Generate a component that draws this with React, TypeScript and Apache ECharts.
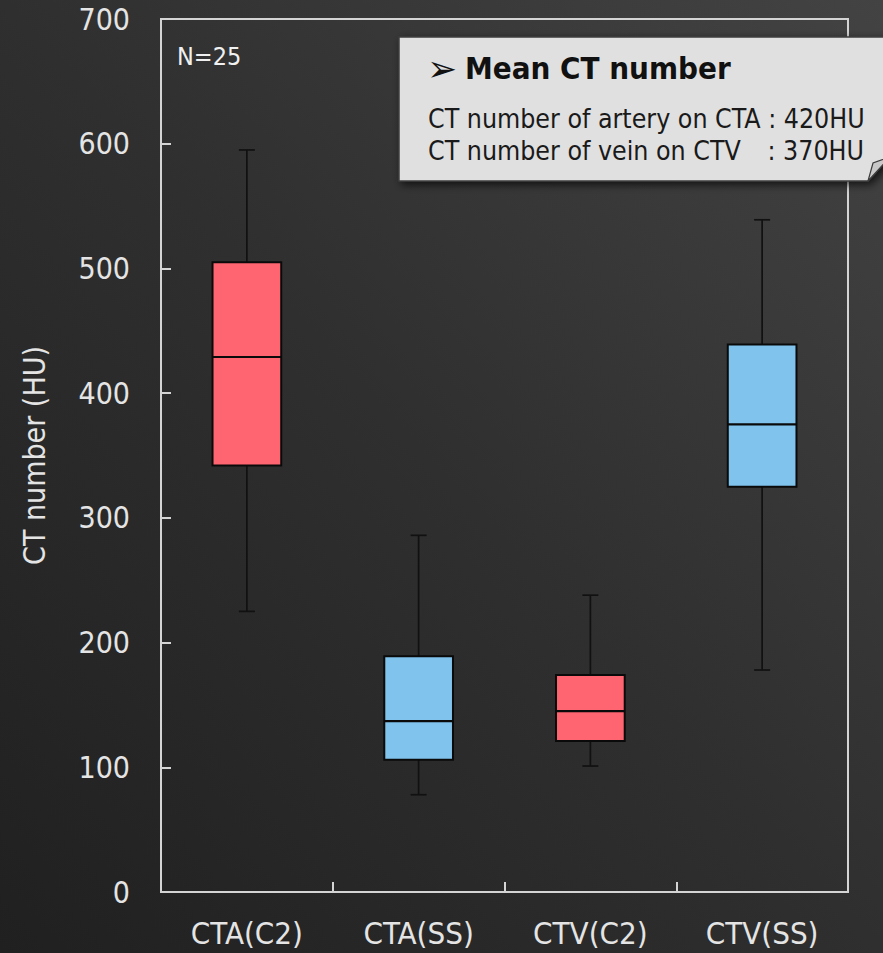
import React, { useEffect, useRef } from "react";
import * as echarts from "echarts";

const categories = ["CTA(C2)", "CTA(SS)", "CTV(C2)", "CTV(SS)"];
// [low whisker, Q1, median, Q3, high whisker] in HU
const lowWhisker = [225, 78, 101, 178];
const q1 = [342, 106, 121, 325];
const median = [429, 137, 145, 375];
const q3 = [505, 189, 174, 439];
const highWhisker = [595, 286, 238, 539];
const yTicks = [0, 100, 200, 300, 400, 500, 600, 700];

const boxColors = ["#FF6571", "#80C4EE", "#FF6571", "#80C4EE"];
const FONT = "'DejaVu Sans Condensed', 'DejaVu Sans', sans-serif";

export default function App() {
  const ref = useRef<HTMLDivElement>(null);
  useEffect(() => {
    document.body.style.margin = "0";
    const chart = echarts.init(ref.current!, null, { renderer: "svg" });
    const data = categories.map((_, i) => [i, lowWhisker[i], q1[i], median[i], q3[i], highWhisker[i]]);
    const option: any = {
      animation: false,
      backgroundColor: new echarts.graphic.LinearGradient(0, 1, 1, 0, [
        { offset: 0, color: "#202020" },
        { offset: 0.5, color: "#2f2f2f" },
        { offset: 1, color: "#434343" },
      ]),
      grid: { left: 161, right: 35, top: 19, bottom: 61, show: true, borderColor: "#d4d4d4", borderWidth: 2 },
      xAxis: {
        type: "category",
        data: categories,
        boundaryGap: true,
        axisLine: { lineStyle: { color: "#d4d4d4", width: 2 } },
        axisTick: { show: true, inside: true, length: 10, interval: 0, lineStyle: { color: "#d4d4d4", width: 2 } },
        axisLabel: { color: "#e4e4e4", fontSize: 31, fontFamily: FONT, margin: 25, interval: 0 },
        splitLine: { show: false },
      },
      yAxis: {
        type: "value",
        min: yTicks[0],
        max: yTicks[yTicks.length - 1],
        interval: 100,
        name: "CT number (HU)",
        nameLocation: "middle",
        nameGap: 112,
        nameTextStyle: { color: "#e4e4e4", fontSize: 30, fontFamily: FONT },
        axisLine: { show: true, lineStyle: { color: "#d4d4d4", width: 2 } },
        axisTick: { show: true, inside: true, length: 10, lineStyle: { color: "#d4d4d4", width: 2 } },
        axisLabel: { color: "#e4e4e4", fontSize: 30, fontFamily: FONT, margin: 31 },
        splitLine: { show: false },
      },
      series: [
        {
          type: "custom",
          data,
          renderItem: (params: any, api: any) => {
            const x = api.value(0);
            const lo = api.coord([x, api.value(1)]);
            const b1 = api.coord([x, api.value(2)]);
            const md = api.coord([x, api.value(3)]);
            const b3 = api.coord([x, api.value(4)]);
            const hi = api.coord([x, api.value(5)]);
            const bw = api.size([1, 0])[0] * 0.4;
            const cx = lo[0];
            const cap = 8;
            const lineStyle = { stroke: "#111111", lineWidth: 1.7 };
            const color = boxColors[params.dataIndex];
            return {
              type: "group",
              children: [
                { type: "line", shape: { x1: cx, y1: hi[1], x2: cx, y2: b3[1] }, style: lineStyle },
                { type: "line", shape: { x1: cx, y1: b1[1], x2: cx, y2: lo[1] }, style: lineStyle },
                { type: "line", shape: { x1: cx - cap, y1: hi[1], x2: cx + cap, y2: hi[1] }, style: lineStyle },
                { type: "line", shape: { x1: cx - cap, y1: lo[1], x2: cx + cap, y2: lo[1] }, style: lineStyle },
                {
                  type: "rect",
                  shape: { x: cx - bw / 2, y: b3[1], width: bw, height: b1[1] - b3[1] },
                  style: { fill: color, stroke: "#0a0a0a", lineWidth: 2 },
                },
                {
                  type: "line",
                  shape: { x1: cx - bw / 2, y1: md[1], x2: cx + bw / 2, y2: md[1] },
                  style: { stroke: "#0a0a0a", lineWidth: 2.2 },
                },
              ],
            };
          },
        },
      ],
      graphic: [
        {
          type: "text",
          left: 177,
          top: 44,
          style: { text: "N=25", fill: "#f0f0f0", fontSize: 25, fontFamily: FONT, verticalAlign: "middle" },
          z: 10,
        },
        {
          type: "group",
          z: 20,
          children: [
            {
              type: "polygon",
              shape: { points: [[399, 37], [890, 37], [890, 157], [868, 181], [399, 181]] },
              style: {
                fill: "#e0e0e0",
                stroke: "#3c3c3c",
                lineWidth: 1.5,
                shadowBlur: 8,
                shadowOffsetX: 3,
                shadowOffsetY: 3,
                shadowColor: "rgba(0,0,0,0.7)",
              },
            },
            {
              type: "polygon",
              shape: { points: [[868, 181], [873, 163], [890, 157]] },
              style: { fill: "#c8c8c8", stroke: "#3c3c3c", lineWidth: 1.2 },
            },
            {
              type: "text",
              x: 427,
              y: 68,
              style: { text: "➢", fill: "#111111", fontSize: 36, fontFamily: "'DejaVu Sans', sans-serif", verticalAlign: "middle" },
            },
            {
              type: "text",
              x: 465,
              y: 68,
              style: { text: "Mean CT number", fill: "#111111", fontSize: 31, fontWeight: "bold", fontFamily: FONT, verticalAlign: "middle" },
            },
            {
              type: "text",
              x: 428,
              y: 118,
              style: { text: "CT number of artery on CTA : 420HU", fill: "#1a1a1a", fontSize: 26.5, fontFamily: FONT, verticalAlign: "middle" },
            },
            {
              type: "text",
              x: 428,
              y: 150,
              style: { text: "CT number of vein on CTV", fill: "#1a1a1a", fontSize: 26.5, fontFamily: FONT, verticalAlign: "middle" },
            },
            {
              type: "text",
              x: 864,
              y: 150,
              style: { text: ": 370HU", fill: "#1a1a1a", fontSize: 26.5, fontFamily: FONT, verticalAlign: "middle", align: "right" },
            },
          ],
        },
      ],
    };
    chart.setOption(option);
    return () => chart.dispose();
  }, []);
  return <div ref={ref} style={{ position: "absolute", left: 0, top: 0, width: 883, height: 953 }} />;
}
